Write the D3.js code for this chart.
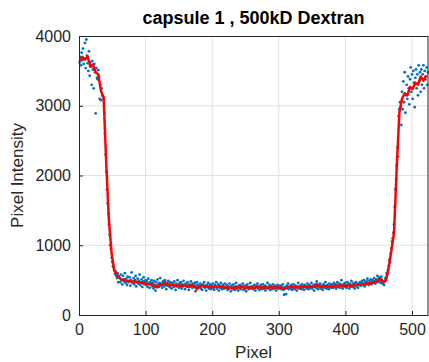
<!DOCTYPE html>
<html>
<head>
<meta charset="utf-8">
<script src="https://cdn.jsdelivr.net/npm/d3@7"></script>
<style>
  body { margin: 0; background: #fff; }
  svg { display: block; font-family: "Liberation Sans", Arial, sans-serif; }
</style>
</head>
<body>
<svg id="chart" width="429" height="362"></svg>
<script>
// Intensity profile across capsule 1 (one raw value per pixel, smoothed every 4th pixel)
const TITLE = "capsule 1 , 500kD Dextran";
const X_TICKS = [0, 100, 200, 300, 400, 500];
const Y_TICKS = [0, 1000, 2000, 3000, 4000];

// raw samples, pixel 1..524
const rawValues = [
  3620,3700,3580,3760,3650,3820,3600,3680,3900,3540,3950,3720,3610,3500,3780,3430,3620,3560,3300,3640,
  3520,3250,3600,3480,2890,3540,3400,3380,3510,3420,3100,3300,3080,3250,3150,3130,3100,2900,2600,2300,
  2050,1800,1600,1450,1300,1150,1000,950,820,760,700,680,640,590,620,560,530,600,470,560,
  530,470,580,500,440,560,510,480,600,460,520,430,550,490,470,540,420,500,610,460,
  480,530,440,500,560,410,470,520,450,490,580,430,460,510,400,480,540,440,470,500,
  430,480,400,520,450,390,470,440,500,410,460,380,490,430,350,470,420,510,440,400,
  460,530,420,450,390,480,440,410,500,430,370,460,420,490,450,400,470,430,380,460,
  440,400,480,420,360,450,410,500,430,390,460,420,470,380,440,410,490,430,370,450,
  420,400,470,430,360,440,410,480,420,390,450,430,400,460,340,420,470,390,430,410,
  400,450,380,420,360,440,410,470,390,420,350,430,400,460,380,410,440,370,420,400,
  450,390,360,430,410,470,380,400,440,350,420,390,460,400,370,430,410,380,450,400,
  390,430,360,410,380,450,400,340,420,390,370,440,400,360,410,460,380,400,350,420,
  390,430,370,410,400,450,360,390,420,380,340,410,440,390,370,400,460,380,410,390,
  400,370,430,390,350,420,400,450,380,410,360,400,430,390,370,440,400,380,420,350,
  410,390,460,380,400,430,360,410,390,370,440,400,380,420,390,350,410,430,380,400,
  390,420,370,410,400,440,360,290,400,380,300,420,390,450,370,400,410,380,430,360,
  400,440,390,370,420,400,350,410,460,390,380,420,400,370,440,390,410,360,430,400,
  410,380,450,400,370,430,410,390,460,380,420,400,350,440,410,390,480,400,370,430,
  410,450,380,420,400,360,440,410,390,470,400,380,430,410,370,450,400,420,390,440,
  420,390,460,410,440,380,430,470,400,420,450,390,430,500,410,380,440,420,460,400,
  430,390,470,420,440,380,450,410,490,430,400,460,420,380,440,470,410,430,390,450,
  440,470,420,460,490,430,450,500,410,470,440,480,520,450,430,490,460,510,440,470,
  500,460,530,480,450,510,490,560,470,520,540,490,460,550,500,450,470,430,480,520,
  540,600,580,650,700,790,760,880,960,1050,1100,1180,1300,1550,1800,1950,2150,2400,2270,2850,
  2950,3050,2980,2724,
  3200,2950,3350,3050,3480,2900,3150,3300,3100,3420,3250,3020,3380,3550,3200,3450,3100,3500,3330,2980,
  3400,3520,3250,3450,3150,3580,3350,3480,3200,3520,3300,3450,3580,3250,3500,3380,3420,3550,3300,3480
];

// smoothed profile, pixel 1, 5, 9, ... 521
const SMOOTH_STEP = 4;
const smoothValues = [
  3640,3700,3660,3710,3560,3590,3480,3450,3210,3120,
  2150,1350,880,640,570,530,500,505,480,490,
  470,480,465,470,450,445,440,445,410,395,
  440,430,470,435,420,440,415,430,410,425,
  420,400,430,415,370,405,420,400,410,405,
  395,415,400,410,395,400,380,395,385,400,
  390,410,385,395,400,385,395,405,390,400,
  385,395,405,390,395,400,385,380,400,410,
  395,405,390,400,410,395,415,400,405,440,
  410,395,420,405,415,400,425,410,430,415,
  420,430,410,425,440,430,445,440,455,450,
  465,470,500,520,470,500,680,920,1180,2100,
  2900,3100,3180,3150,3270,3240,3330,3300,3420,3360,
  3430
];

const W = 429, H = 362;
const M = {left: 79, right: 1, top: 36, bottom: 47};
const svg = d3.select("#chart");

const x = d3.scaleLinear().domain([0, 524]).range([M.left, W - M.right]);
const y = d3.scaleLinear().domain([0, 4000]).range([H - M.bottom, M.top]);

const AXIS = "#262626";
const GRID = "#dfdfdf";
const FS = 16;

// grid
const grid = svg.append("g");
grid.selectAll("line.gx").data(X_TICKS.filter(d => d > 0)).enter().append("line")
  .attr("x1", d => x(d)).attr("x2", d => x(d))
  .attr("y1", y(0)).attr("y2", y(4000))
  .attr("stroke", GRID).attr("stroke-width", 1);
grid.selectAll("line.gy").data(Y_TICKS.filter(d => d > 0 && d < 4000)).enter().append("line")
  .attr("x1", x(0)).attr("x2", W - M.right)
  .attr("y1", d => y(d)).attr("y2", d => y(d))
  .attr("stroke", GRID).attr("stroke-width", 1);

// raw points
svg.append("g").selectAll("circle").data(rawValues).enter().append("circle")
  .attr("cx", (d, i) => x(i + 1))
  .attr("cy", d => y(d))
  .attr("r", 1.4)
  .attr("fill", "#0072bd");

// smoothed line
const line = d3.line()
  .x((d, i) => x(1 + i * SMOOTH_STEP))
  .y(d => y(d));
svg.append("path").datum(smoothValues)
  .attr("d", line)
  .attr("fill", "none")
  .attr("stroke", "#ff0000")
  .attr("stroke-width", 2.5)
  .attr("stroke-linejoin", "round");

// axes
const fmt = d3.format("d");
const xAxis = d3.axisBottom(x).tickValues(X_TICKS).tickFormat(fmt).tickSize(-4).tickPadding(9);
const yAxis = d3.axisLeft(y).tickValues(Y_TICKS).tickFormat(fmt).tickSize(-4).tickPadding(8);

const gx = svg.append("g").attr("transform", `translate(0,${y(0)})`).call(xAxis);
const gy = svg.append("g").attr("transform", `translate(${x(0)},0)`).call(yAxis);
[gx, gy].forEach(g => {
  g.select(".domain").remove();
  g.selectAll("line").attr("stroke", AXIS);
  g.selectAll("text").attr("fill", AXIS).style("font-size", FS + "px").style("font-family", "Liberation Sans, Arial, sans-serif");
});

// box
svg.append("rect")
  .attr("x", x(0) + 0.5).attr("y", y(4000) + 0.5)
  .attr("width", (W - M.right) - x(0) - 0.5).attr("height", y(0) - y(4000))
  .attr("fill", "none").attr("stroke", AXIS).attr("stroke-width", 1);

// labels
svg.append("text")
  .attr("x", (x(0) + W - M.right) / 2).attr("y", 24)
  .attr("text-anchor", "middle")
  .attr("fill", "#000")
  .style("font-size", "18px").style("font-weight", "bold")
  .text(TITLE);

svg.append("text")
  .attr("x", (x(0) + W - M.right) / 2).attr("y", 358)
  .attr("text-anchor", "middle")
  .attr("fill", AXIS)
  .style("font-size", "17px")
  .text("Pixel");

svg.append("text")
  .attr("transform", `translate(23,${(y(0) + y(4000)) / 2}) rotate(-90)`)
  .attr("text-anchor", "middle")
  .attr("fill", AXIS)
  .style("font-size", "17px")
  .text("Pixel Intensity");
</script>
</body>
</html>
